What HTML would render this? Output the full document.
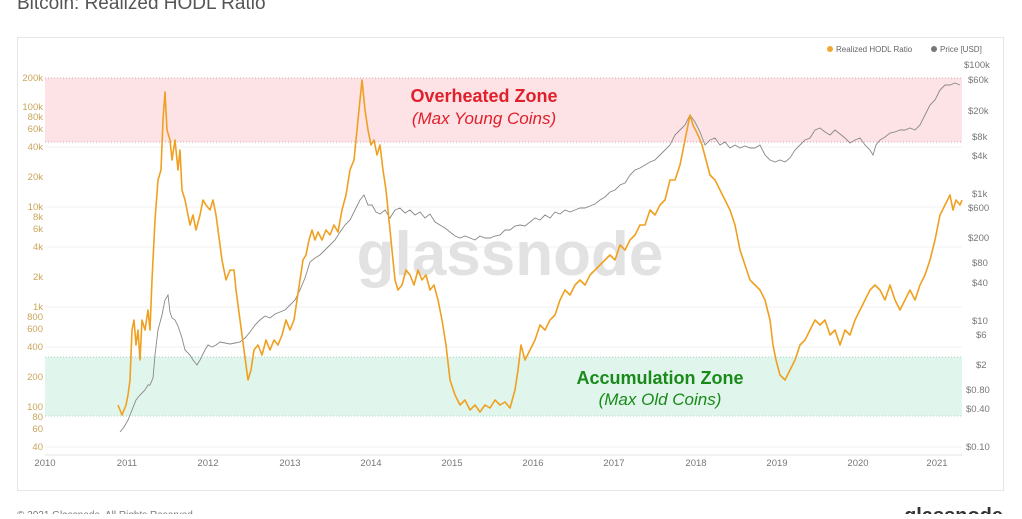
<!DOCTYPE html>
<html><head><meta charset="utf-8"><style>
body{margin:0;background:#fff;width:1022px;height:514px;overflow:hidden;font-family:"Liberation Sans",sans-serif}
</style></head><body>
<svg width="1022" height="514" xmlns="http://www.w3.org/2000/svg" font-family="Liberation Sans, sans-serif">
<text x="17" y="9" font-size="19" fill="#555">Bitcoin: Realized HODL Ratio</text>
<rect x="17.5" y="37.5" width="986" height="453" fill="#fff" stroke="#e6e6e6"/>
<g stroke="#f1f1f1">
<line x1="45" x2="962" y1="447" y2="447"/><line x1="45" x2="962" y1="407" y2="407"/><line x1="45" x2="962" y1="347" y2="347"/><line x1="45" x2="962" y1="307" y2="307"/><line x1="45" x2="962" y1="247" y2="247"/><line x1="45" x2="962" y1="207" y2="207"/><line x1="45" x2="962" y1="147" y2="147"/><line x1="45" x2="962" y1="107" y2="107"/>
</g>
<rect x="45" y="78" width="917" height="64" fill="#fde3e6"/>
<rect x="45" y="357" width="917" height="59" fill="#e0f5ec"/>
<g stroke="#d8a8b0" stroke-dasharray="1,2"><line x1="45" x2="962" y1="78" y2="78"/><line x1="45" x2="962" y1="142" y2="142"/></g>
<g stroke="#a8d8c0" stroke-dasharray="1,2"><line x1="45" x2="962" y1="357" y2="357"/><line x1="45" x2="962" y1="416" y2="416"/></g>
<line x1="45" x2="962" y1="455" y2="455" stroke="#e6e6e6"/>
<text x="510" y="275" font-size="62" fill="#e2e2e2" text-anchor="middle" font-weight="bold">glassnode</text>
<g font-size="9.5" fill="#c9a55a" text-anchor="end">
<text x="43" y="81">200k</text><text x="43" y="110">100k</text><text x="43" y="120">80k</text><text x="43" y="132">60k</text><text x="43" y="150">40k</text><text x="43" y="180">20k</text><text x="43" y="210">10k</text><text x="43" y="220">8k</text><text x="43" y="232">6k</text><text x="43" y="250">4k</text><text x="43" y="280">2k</text><text x="43" y="310">1k</text><text x="43" y="320">800</text><text x="43" y="332">600</text><text x="43" y="350">400</text><text x="43" y="380">200</text><text x="43" y="410">100</text><text x="43" y="420">80</text><text x="43" y="432">60</text><text x="43" y="450">40</text>
</g>
<g font-size="9.5" fill="#777">
<text x="964" y="68">$100k</text><text x="968" y="83">$60k</text><text x="968" y="114">$20k</text><text x="972" y="140">$8k</text><text x="972" y="159">$4k</text><text x="972" y="197">$1k</text><text x="968" y="211">$600</text><text x="968" y="241">$200</text><text x="972" y="266">$80</text><text x="972" y="286">$40</text><text x="972" y="324">$10</text><text x="976" y="338">$6</text><text x="976" y="368">$2</text><text x="966" y="393">$0.80</text><text x="966" y="412">$0.40</text><text x="966" y="450">$0.10</text>
</g>
<g font-size="9.5" fill="#777" text-anchor="middle">
<text x="45" y="466">2010</text><text x="127" y="466">2011</text><text x="208" y="466">2012</text><text x="290" y="466">2013</text><text x="371" y="466">2014</text><text x="452" y="466">2015</text><text x="533" y="466">2016</text><text x="614" y="466">2017</text><text x="696" y="466">2018</text><text x="777" y="466">2019</text><text x="858" y="466">2020</text><text x="937" y="466">2021</text>
</g>
<circle cx="830" cy="49" r="3" fill="#f0a830"/><text x="836" y="52" font-size="8" fill="#666">Realized HODL Ratio</text>
<circle cx="934" cy="49" r="3" fill="#777"/><text x="940" y="52" font-size="8" fill="#666">Price [USD]</text>
<polyline fill="none" stroke="#888" stroke-width="0.9" points="120,432 124,427 128,420 132,410 136,400 140,395 145,390 148,385 150,385 153,378 155,355 158,330 162,315 165,300 168,295 170,312 172,318 175,320 178,326 182,338 185,350 190,355 193,360 197,365 200,360 205,350 208,345 212,347 216,345 220,342 225,343 230,344 235,343 240,342 245,338 250,332 255,325 260,320 265,316 270,318 275,314 280,312 285,310 290,305 295,300 300,290 305,278 310,262 315,258 320,255 325,250 330,245 335,240 340,232 345,225 350,220 355,210 360,200 364,195 368,205 372,205 376,212 380,214 385,210 390,218 395,210 400,208 405,213 410,210 415,215 420,212 425,218 430,214 435,222 440,225 445,228 450,232 455,236 460,238 465,236 470,238 475,240 480,236 485,238 490,238 495,236 500,235 505,230 510,230 515,226 520,225 525,226 530,222 535,218 540,220 545,215 550,218 555,212 560,214 565,210 570,212 575,210 580,208 585,208 590,206 595,204 600,200 605,197 610,192 615,190 620,185 625,183 630,175 635,170 640,168 645,165 650,162 655,160 660,155 665,150 670,145 675,135 680,130 685,125 690,115 695,122 700,132 705,145 710,140 715,138 720,145 725,142 730,148 735,145 740,148 745,146 750,148 755,148 760,145 765,155 770,160 775,162 780,160 785,162 790,158 795,150 800,145 805,140 810,138 815,130 820,128 825,132 830,135 835,130 840,134 845,138 850,143 855,140 860,138 865,145 870,150 873,155 876,145 880,140 885,137 890,133 895,132 900,130 905,130 910,128 915,130 920,125 925,115 930,105 935,100 940,90 945,85 950,85 955,83 960,85"/>
<polyline fill="none" stroke="#f0a020" stroke-width="1.6" stroke-linejoin="round" points="118,405 122,415 126,405 128,395 130,380 132,330 134,320 136,345 138,330 140,360 142,320 145,330 148,310 150,330 152,280 155,220 158,180 161,170 163,120 165,92 167,130 170,140 172,160 175,140 178,170 180,150 182,190 185,200 188,215 190,225 193,215 196,230 200,215 203,200 206,205 210,210 213,200 216,215 218,230 222,260 226,280 230,270 234,270 236,290 240,320 244,350 248,380 251,370 254,350 258,345 262,355 266,340 270,350 274,340 278,345 282,335 286,320 290,330 294,320 297,300 300,280 303,260 306,255 309,240 312,230 315,240 318,232 322,240 326,230 330,235 334,225 338,232 342,210 346,195 350,170 354,160 358,120 362,80 365,110 368,130 371,145 374,140 377,155 380,145 383,170 386,190 388,210 390,230 392,250 395,280 398,290 402,285 406,270 410,275 414,285 418,270 422,280 426,275 430,290 434,285 438,300 442,320 446,345 450,380 455,395 460,405 465,400 470,410 475,405 480,412 485,405 490,408 495,400 500,405 505,402 510,408 515,390 518,370 521,345 525,360 530,350 535,340 540,325 545,330 550,320 555,315 560,300 565,290 570,295 575,285 580,280 585,285 590,275 595,270 600,265 605,260 610,255 615,260 620,245 625,250 630,240 635,235 640,225 645,225 650,210 655,215 660,205 665,200 670,180 675,180 680,165 685,140 690,115 693,125 698,135 702,145 706,160 710,175 715,180 720,190 725,200 730,210 735,225 740,250 745,265 750,280 755,285 760,290 765,300 770,320 773,345 776,360 780,375 785,380 790,370 795,360 800,345 805,340 810,330 815,320 820,325 825,320 830,335 835,330 840,345 845,330 850,335 855,320 860,310 865,300 870,290 875,285 880,290 885,300 890,285 895,300 900,310 905,300 910,290 915,300 920,285 925,275 930,260 935,240 940,215 945,205 950,195 953,210 956,200 960,205 962,200"/>
<text x="484" y="102" font-size="18" font-weight="bold" fill="#e0202a" text-anchor="middle">Overheated Zone</text>
<text x="484" y="124" font-size="17" font-style="italic" fill="#e0202a" text-anchor="middle">(Max Young Coins)</text>
<text x="660" y="384" font-size="18" font-weight="bold" fill="#1a8a1a" text-anchor="middle">Accumulation Zone</text>
<text x="660" y="405" font-size="17" font-style="italic" fill="#1a8a1a" text-anchor="middle">(Max Old Coins)</text>
<text x="17" y="518" font-size="10" fill="#777">© 2021 Glassnode. All Rights Reserved.</text>
<text x="1003" y="522" font-size="20" font-weight="bold" fill="#333" text-anchor="end">glassnode</text>
</svg>
</body></html>
